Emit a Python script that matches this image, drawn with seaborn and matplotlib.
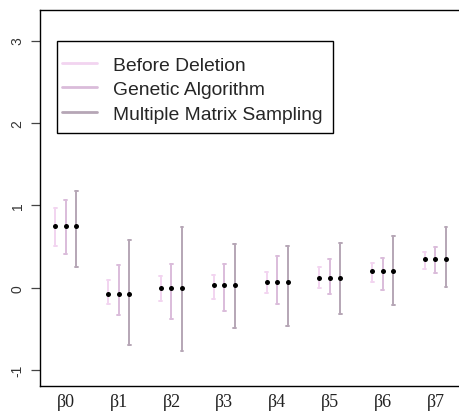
import numpy as np
import pandas as pd
import matplotlib
matplotlib.use("Agg")
import matplotlib.pyplot as plt
from matplotlib.lines import Line2D
from matplotlib.patches import Rectangle
import seaborn as sns

# ---- data ----
params = ["β0", "β1", "β2", "β3", "β4", "β5", "β6", "β7"]
methods = ["Before Deletion", "Genetic Algorithm", "Multiple Matrix Sampling"]
estimates = [0.753, -0.073, 0.004, 0.032, 0.069, 0.121, 0.200, 0.348]
bd_lower = [0.51, -0.194, -0.158, -0.138, -0.065, -0.004, 0.077, 0.235]
bd_upper = [0.97, 0.093, 0.142, 0.154, 0.198, 0.250, 0.300, 0.441]
ga_lower = [0.405, -0.328, -0.372, -0.279, -0.194, -0.077, -0.028, 0.182]
ga_upper = [1.065, 0.275, 0.287, 0.287, 0.385, 0.356, 0.368, 0.498]
mms_lower = [0.25, -0.696, -0.765, -0.49, -0.46, -0.316, -0.21, 0.012]
mms_upper = [1.17, 0.579, 0.733, 0.538, 0.51, 0.55, 0.632, 0.733]
yticks = [-1, 0, 1, 2, 3]

colors = ["#F2D4F0", "#DABCDA", "#B6A6B6"]

bounds = {
    methods[0]: (bd_lower, bd_upper),
    methods[1]: (ga_lower, ga_upper),
    methods[2]: (mms_lower, mms_upper),
}
rows = []
for m in methods:
    lo, hi = bounds[m]
    for i, p in enumerate(params):
        for v in (lo[i], estimates[i], hi[i]):
            rows.append({"param": p, "method": m, "value": v})
df = pd.DataFrame(rows)

sns.set_theme(style="ticks")
plt.rcParams["font.family"] = ["Liberation Sans", "DejaVu Sans"]

W, H = 460, 414
AX_W = 520 - 40  # axes runs past the right edge of the figure (box is cut off)
fig = plt.figure(figsize=(W / 100, H / 100), dpi=100)
ax = fig.add_axes([40 / W, 27 / H, AX_W / W, 376 / H])

# error bars (min..max interval, median = point estimate)
sns.pointplot(data=df, x="param", y="value", hue="method", order=params,
              hue_order=methods, estimator="median", errorbar=("pi", 100),
              dodge=0.4, linestyle="none", markersize=0, palette=colors,
              capsize=0.055, err_kws={"linewidth": 1.4}, legend=False, ax=ax)
# black point estimates
sns.pointplot(data=df, x="param", y="value", hue="method", order=params,
              hue_order=methods, estimator="median", errorbar=None,
              dodge=0.4, linestyle="none", marker="o", markersize=3.6,
              markeredgewidth=0, palette=["black"] * 3, legend=False, ax=ax)

ax.set_xlim(-0.49, -0.49 + AX_W / 52.8)
ax.set_ylim(-1.19, 3.37)
ax.set_yticks(yticks)
ax.set_yticklabels([str(t) for t in yticks])
ax.set_xlabel("")
ax.set_ylabel("")

for s in ["left", "bottom", "top"]:
    ax.spines[s].set_visible(True)
    ax.spines[s].set_color("black")
    ax.spines[s].set_linewidth(1.0)
ax.spines["right"].set_visible(False)

ax.tick_params(axis="y", length=6.5, width=0.9, color="#444444", pad=4.5,
               labelsize=10, labelcolor="#333333", labelrotation=90)
for lab in ax.get_yticklabels():
    lab.set_va("center")
ax.tick_params(axis="x", length=0, pad=5, labelsize=13, labelcolor="#222222")
for lab in ax.get_xticklabels():
    lab.set_fontfamily(["Liberation Serif", "DejaVu Serif"])

# legend frame drawn as a rectangle in figure pixels, legend text without frame
fig.patches.append(Rectangle((56.7 / W, 1 - 134 / H), (333 - 56.7) / W,
                             (134 - 41.7) / H, transform=fig.transFigure,
                             facecolor="white", edgecolor="black",
                             linewidth=1.0, zorder=5))
handles = [Line2D([0], [0], color=c, lw=2) for c in colors]
leg = fig.legend(handles, methods, loc="upper left",
                 bbox_to_anchor=(62 / W, 1 - 57 / H),
                 bbox_transform=fig.transFigure, fontsize=13.9,
                 frameon=False, borderpad=0, borderaxespad=0,
                 labelspacing=0.37, handlelength=1.8, handletextpad=0.85)
leg.set_zorder(6)

fig.savefig("out.png", dpi=100)
